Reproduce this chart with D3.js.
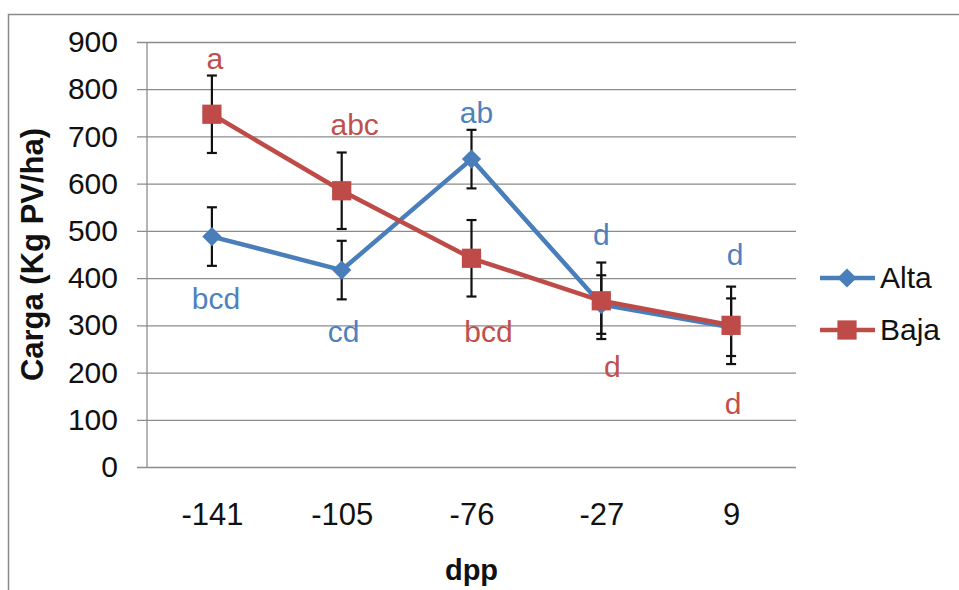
<!DOCTYPE html>
<html>
<head>
<meta charset="utf-8">
<script src="https://d3js.org/d3.v7.min.js"></script>
<style>
  body { margin: 0; background: #fff; font-family: "Liberation Sans", Arial, sans-serif; }
  svg { display: block; }
</style>
</head>
<body>
<div id="chart"></div>
<script>
// data
var categories = ["-141", "-105", "-76", "-27", "9"]
var alta      = [488, 417, 652, 344, 296]
var altaErr   = [62, 62, 62, 62, 61]
var baja      = [747, 585, 442, 352, 300]
var bajaErr   = [82, 81, 81, 81, 82]
var altaLetters   = ["bcd", "cd", "ab", "d", "d"]
var altaLetterAt  = [356, 286, 751, 493, 451]
var bajaLetters   = ["a", "abc", "bcd", "d", "d"]
var bajaLetterAt  = [866, 725, 288, 212, 134]
var yTicks = [0, 100, 200, 300, 400, 500, 600, 700, 800, 900]

var W = 959, H = 590
var plot = { left: 147, right: 796, top: 42, bottom: 467 }
var blue = "#4A7EBB", red = "#BE4B48"
var blueText = "#4F81BD", redText = "#C0504D"
var font = "Liberation Sans, Arial, sans-serif"

var svg = d3.select("#chart").append("svg")
    .attr("width", W)
    .attr("height", H)

// outer chart border (cropped on right and bottom)
svg.append("path")
    .attr("d", "M8.5," + H + " V14.5 H" + W)
    .attr("fill", "none")
    .attr("stroke", "#8a8a8a")
    .attr("stroke-width", 1.5)

var x = d3.scalePoint()
    .domain(categories)
    .range([plot.left, plot.right])
    .padding(0.5)

var y = d3.scaleLinear()
    .domain([0, 900])
    .range([plot.bottom, plot.top])

// gridlines + y ticks
var yAxis = d3.axisLeft(y)
    .tickValues(yTicks)
    .tickSize(-(plot.right - plot.left))
    .tickPadding(29)

var gy = svg.append("g")
    .attr("transform", "translate(" + plot.left + ",0)")
    .call(yAxis)
gy.select(".domain").remove()
gy.selectAll(".tick line")
    .attr("x1", -10)
    .attr("stroke", "#8c8c8c")
    .attr("stroke-width", 1.3)
gy.selectAll(".tick text")
    .attr("font-size", "30px")
    .attr("fill", "#111")
    .attr("font-family", font)

// vertical axis line
svg.append("line")
    .attr("x1", plot.left).attr("x2", plot.left)
    .attr("y1", plot.top).attr("y2", plot.bottom)
    .attr("stroke", "#8c8c8c")
    .attr("stroke-width", 1.3)

// x tick labels
var xAxis = d3.axisBottom(x).tickSize(0).tickPadding(36)
var gx = svg.append("g")
    .attr("transform", "translate(0," + plot.bottom + ")")
    .call(xAxis)
gx.select(".domain").remove()
gx.selectAll(".tick text")
    .attr("font-size", "31px")
    .attr("fill", "#111")
    .attr("font-family", font)

// axis titles
svg.append("text")
    .attr("transform", "translate(43," + ((plot.top + plot.bottom) / 2) + ") rotate(-90)")
    .attr("text-anchor", "middle")
    .attr("font-size", "31px")
    .attr("font-weight", "bold")
    .attr("fill", "#111")
    .text("Carga (Kg PV/ha)")

svg.append("text")
    .attr("x", (plot.left + plot.right) / 2)
    .attr("y", 580)
    .attr("text-anchor", "middle")
    .attr("font-size", "29px")
    .attr("font-weight", "bold")
    .attr("fill", "#111")
    .text("dpp")

var series = [
    { name: "Alta", values: alta, err: altaErr, color: blue, text: blueText, letters: altaLetters, letterAt: altaLetterAt, shape: d3.symbolSquare, size: 185, rot: 45 },
    { name: "Baja", values: baja, err: bajaErr, color: red, text: redText, letters: bajaLetters, letterAt: bajaLetterAt, shape: d3.symbolSquare, size: 370, rot: 0 }
]

// error bars (behind lines and markers)
series.forEach(function(s) {
    var g = svg.append("g").attr("stroke", "#111").attr("stroke-width", 2.2)
    categories.forEach(function(c, i) {
        var cx = x(c), top = y(s.values[i] + s.err[i]), bot = y(s.values[i] - s.err[i])
        g.append("line").attr("x1", cx).attr("x2", cx).attr("y1", top).attr("y2", bot)
        g.append("line").attr("x1", cx - 5).attr("x2", cx + 5).attr("y1", top).attr("y2", top)
        g.append("line").attr("x1", cx - 5).attr("x2", cx + 5).attr("y1", bot).attr("y2", bot)
    })
})

var line = d3.line()
    .x(function(d, i) { return x(categories[i]) })
    .y(function(d) { return y(d) })

series.forEach(function(s) {
    svg.append("path")
        .datum(s.values)
        .attr("d", line)
        .attr("fill", "none")
        .attr("stroke", s.color)
        .attr("stroke-width", 4.5)
        .attr("stroke-linejoin", "round")

    svg.selectAll(null)
        .data(s.values)
        .enter()
        .append("path")
        .attr("d", d3.symbol().type(s.shape).size(s.size))
        .attr("transform", function(d, i) { return "translate(" + x(categories[i]) + "," + y(d) + ") rotate(" + s.rot + ")" })
        .attr("fill", s.color)
})

// significance letters
var nudge = { Alta: [4, 2, 5, 0, 4], Baja: [3, 13, 17, 11, 2] }
series.forEach(function(s) {
    svg.selectAll(null)
        .data(s.letters)
        .enter()
        .append("text")
        .attr("x", function(d, i) { return x(categories[i]) + nudge[s.name][i] })
        .attr("y", function(d, i) { return y(s.letterAt[i]) })
        .attr("dy", "0.35em")
        .attr("text-anchor", "middle")
        .attr("font-size", "30px")
        .attr("fill", s.text)
        .text(function(d) { return d })
})

// legend
var legend = svg.append("g").attr("transform", "translate(820,0)")
var legendY = [278, 330]
series.forEach(function(s, i) {
    var g = legend.append("g").attr("transform", "translate(0," + legendY[i] + ")")
    g.append("line")
        .attr("x1", 0).attr("x2", 55)
        .attr("stroke", s.color)
        .attr("stroke-width", 4.5)
    g.append("path")
        .attr("d", d3.symbol().type(s.shape).size(s.size))
        .attr("transform", "translate(27,0) rotate(" + s.rot + ")")
        .attr("fill", s.color)
    g.append("text")
        .attr("x", 60)
        .attr("dy", "0.33em")
        .attr("font-size", "30px")
        .attr("fill", "#111")
        .text(s.name)
})
</script>
</body>
</html>
